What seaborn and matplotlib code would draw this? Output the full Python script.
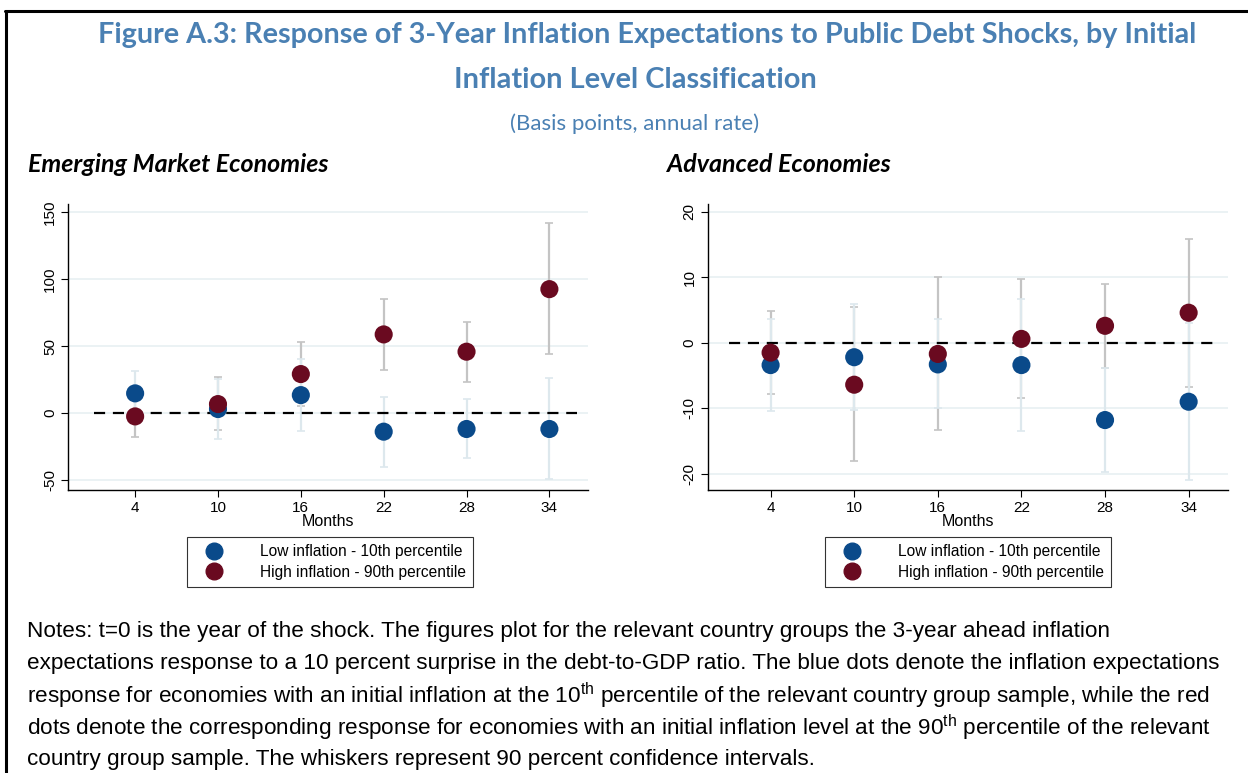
import matplotlib
matplotlib.use("Agg")
import matplotlib.pyplot as plt
import seaborn as sns
import pandas as pd
from matplotlib.lines import Line2D

# data
months = [4, 10, 16, 22, 28, 34]

em_low = [14.7, 3.0, 13.4, -13.9, -11.9, -11.9]
em_low_lo = [-2.0, -19.5, -13.2, -40.0, -33.8, -49.3]
em_low_hi = [31.6, 25.5, 40.0, 12.2, 10.4, 26.1]
em_high = [-2.5, 6.7, 29.1, 58.7, 45.8, 92.5]
em_high_lo = [-18.0, -13.0, 5.5, 32.3, 23.4, 43.8]
em_high_hi = [13.0, 26.6, 53.2, 85.0, 68.2, 141.5]

ae_low = [-3.4, -2.2, -3.3, -3.4, -11.8, -9.0]
ae_low_lo = [-10.4, -10.2, -10.0, -13.5, -19.7, -21.0]
ae_low_hi = [3.7, 5.9, 3.6, 6.7, -3.9, 3.1]
ae_high = [-1.5, -6.4, -1.7, 0.6, 2.6, 4.6]
ae_high_lo = [-7.8, -18.1, -13.3, -8.5, -3.8, -6.7]
ae_high_hi = [4.9, 5.4, 10.0, 9.7, 9.0, 15.8]

em_yticks = [-50, 0, 50, 100, 150]
ae_yticks = [-20, -10, 0, 10, 20]

labels = ["Low inflation - 10th percentile", "High inflation - 90th percentile"]

blue = "#0a4a8a"
red = "#6a0a20"
blue_ci = "#dde8ed"
red_ci = "#c4c4c4"
title_col = "#4a80b3"

sns.set_style("white")
plt.rcParams['font.family'] = ['Liberation Sans', 'DejaVu Sans']
plt.rcParams['mathtext.fontset'] = 'custom'
plt.rcParams['mathtext.rm'] = 'Liberation Sans'
for k in ['text.color', 'axes.labelcolor', 'xtick.color', 'ytick.color']:
    plt.rcParams[k] = 'black'

fig = plt.figure(figsize=(12.48, 7.73), dpi=100)
ax1 = fig.add_axes([0.0545, 0.366, 0.4167, 0.370])
ax2 = fig.add_axes([0.567, 0.366, 0.4167, 0.370])


def panel(ax, low, low_lo, low_hi, high, high_lo, high_hi, yticks, ylim, xlim):
    for tk in yticks:
        ax.axhline(tk, color="#e8f0f2", lw=1.2, zorder=0)
    lo_err = [[v - l for v, l in zip(low, low_lo)], [h - v for v, h in zip(low, low_hi)]]
    hi_err = [[v - l for v, l in zip(high, high_lo)], [h - v for v, h in zip(high, high_hi)]]
    ax.errorbar(months, high, yerr=hi_err, fmt="none", ecolor=red_ci, elinewidth=1.6,
                capsize=3, capthick=1.2, zorder=1)
    ax.errorbar(months, low, yerr=lo_err, fmt="none", ecolor=blue_ci, elinewidth=1.6,
                capsize=3, capthick=1.2, zorder=1)
    ax.plot([1, 36], [0, 0], color="black", lw=1.6, ls=(0, (5, 3.5)), zorder=2)
    df = pd.DataFrame({"m": months * 2, "v": low + high,
                       "g": [labels[0]] * 6 + [labels[1]] * 6})
    sns.scatterplot(data=df, x="m", y="v", hue="g", palette=[blue, red], s=170,
                    edgecolor="none", legend=False, ax=ax, zorder=3)
    ax.set_xlim(*xlim)
    ax.set_ylim(*ylim)
    ax.set_xticks(months)
    ax.set_xticklabels([str(m) for m in months], fontsize=11)
    ax.set_yticks(yticks)
    ax.set_yticklabels([str(t) for t in yticks], fontsize=11, rotation=90, va="center")
    ax.set_xlabel("Months", fontsize=11.5, labelpad=-1)
    ax.set_ylabel("")
    for s in ["top", "right"]:
        ax.spines[s].set_visible(False)
    for s in ["left", "bottom"]:
        ax.spines[s].set_color("black")
        ax.spines[s].set_linewidth(1.0)
    ax.tick_params(axis="both", length=5, width=0.8, color="black", direction="out",
                   left=True, bottom=True, pad=3)


panel(ax1, em_low, em_low_lo, em_low_hi, em_high, em_high_lo, em_high_hi,
      em_yticks, (-57.5, 156), (-0.86, 36.8))
panel(ax2, ae_low, ae_low_lo, ae_low_hi, ae_high, ae_high_lo, ae_high_hi,
      ae_yticks, (-22.5, 21.2), (-0.52, 36.8))

handles = [Line2D([], [], marker="o", ls="none", color=blue, markersize=12),
           Line2D([], [], marker="o", ls="none", color=red, markersize=12)]
for cx in [0.2644, 0.7756]:
    leg = fig.legend(handles, labels, loc="center", bbox_to_anchor=(cx, 0.273),
                     frameon=True, fancybox=False, fontsize=11.2, handletextpad=1.7,
                     borderpad=0.45, labelspacing=0.35, handlelength=2.6)
    leg.get_frame().set_edgecolor("black")
    leg.get_frame().set_linewidth(0.8)

# titles
fig.text(647 / 1248, 1 - 35 / 773, "Figure A.3: Response of 3-Year Inflation Expectations to Public Debt Shocks, by Initial",
         ha="center", va="center", fontsize=20.7, fontweight="bold", color=title_col,
         family=["Lato", "DejaVu Sans"])
fig.text(635 / 1248, 1 - 80 / 773, "Inflation Level Classification", ha="center", va="center",
         fontsize=20.9, fontweight="bold", color=title_col, family=["Lato", "DejaVu Sans"])
fig.text(635 / 1248, 1 - 124 / 773, "(Basis points, annual rate)", ha="center", va="center",
         fontsize=16, color=title_col, family=["Lato", "DejaVu Sans"])
fig.text(28 / 1248, 1 - 165 / 773, "Emerging Market Economies", ha="left", va="center",
         fontsize=18, fontweight="bold", style="italic", family=["Lato", "DejaVu Sans"])
fig.text(667 / 1248, 1 - 165 / 773, "Advanced Economies", ha="left", va="center",
         fontsize=18, fontweight="bold", style="italic", family=["Lato", "DejaVu Sans"])

notes = [
    "Notes: t=0 is the year of the shock. The figures plot for the relevant country groups the 3-year ahead inflation",
    "expectations response to a 10 percent surprise in the debt-to-GDP ratio. The blue dots denote the inflation expectations",
    "response for economies with an initial inflation at the 10$^{\\mathrm{th}}$ percentile of the relevant country group sample, while the red",
    "dots denote the corresponding response for economies with an initial inflation level at the 90$^{\\mathrm{th}}$ percentile of the relevant",
    "country group sample. The whiskers represent 90 percent confidence intervals.",
]
for i, line in enumerate(notes):
    fig.text(27 / 1248, 1 - (632 + i * 32) / 773, line, ha="left", va="center", fontsize=16.2)

# frame lines at top and left of the page
fig.add_artist(Line2D([5 / 1248, 1], [1 - 11 / 773] * 2, transform=fig.transFigure,
                      color="black", lw=2.2))
fig.add_artist(Line2D([6 / 1248] * 2, [0, 1 - 11 / 773], transform=fig.transFigure,
                      color="black", lw=2.2))

fig.savefig("out.png", dpi=100)
